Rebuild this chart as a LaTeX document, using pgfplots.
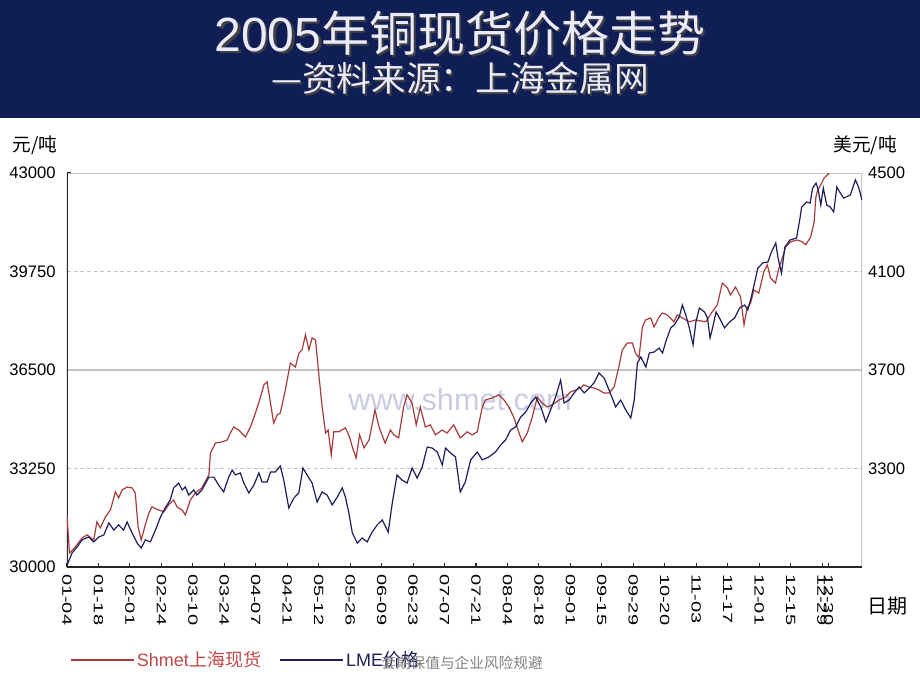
\documentclass[border=0pt]{standalone}
\usepackage{pgfplots}
\pgfplotsset{compat=1.18}
\usepackage{pgfplotstable}
\usepackage{fontspec}
\setmainfont{Liberation Sans}
\newfontfamily\cjk{Noto Sans CJK SC}
\definecolor{band}{HTML}{0F1E55}
\definecolor{shred}{HTML}{A83C3C}
\definecolor{shredtext}{HTML}{C04848}
\definecolor{lmeblue}{HTML}{1E1E5C}
\definecolor{gridgray}{HTML}{C4C4C4}
\definecolor{wmark}{HTML}{C9CCE2}

% Shmet spot price, yuan/t (x = trading day from 01-04)
\pgfplotstableread{
day val
0 31700
0.8 30460
2.6 30660
4.8 30960
6.4 31060
8.5 30890
9.5 31490
10.6 31290
12.2 31650
13.8 31880
15.4 32480
16.4 32280
17.5 32540
19.1 32640
20.7 32610
21.7 32440
22.6 31320
23.6 30890
24.7 31320
26.0 31780
27.0 31980
29.2 31880
30.8 31820
32.3 32050
33.9 32210
35.0 31980
36.6 31880
37.6 31720
39.2 32210
40.8 32440
42.9 32610
45.1 33040
45.6 33760
47.2 34090
49.3 34130
50.9 34190
51.9 34420
53.0 34620
54.6 34520
56.7 34290
58.3 34620
59.9 35080
61.5 35610
62.6 36010
63.6 36110
65.7 34750
66.8 35020
67.8 35080
69.4 35840
71.0 36730
72.6 36600
73.7 37060
74.7 37160
75.8 37660
76.9 37160
77.9 37560
79.0 37490
80.0 36400
81.1 35280
82.2 34420
83.0 34520
84.0 33700
84.8 34460
86.4 34460
88.5 34590
89.8 34290
90.7 33960
91.9 33600
93.0 34360
94.4 33930
96.0 34190
97.9 35180
99.2 34620
101.1 34090
102.8 34520
103.9 34360
105.4 34260
107.0 35280
108.1 35680
109.7 35410
111.0 34690
112.3 35280
113.9 34620
115.5 34690
117.1 34360
119.2 34520
120.8 34420
122.9 34690
125.0 34260
127.2 34460
128.8 34360
130.4 34460
132.0 35280
133.0 35510
135.2 35580
137.3 35680
138.9 35510
140.5 35280
142.1 34920
143.7 34420
144.7 34130
146.3 34420
147.9 34950
149.5 35610
151.0 35410
152.6 35280
154.2 35350
156.4 35510
158.5 35610
160.1 35780
161.7 35840
163.3 35910
164.3 36010
165.9 35940
167.5 35910
169.1 35840
170.7 35740
172.3 35740
173.9 35940
175.4 36600
176.5 37160
178.1 37390
179.7 37390
180.7 37060
181.8 36900
182.9 37920
183.9 38150
185.5 38220
186.6 37920
188.2 38250
189.2 38380
190.8 38320
192.9 38090
194.0 38320
195.6 38220
197.7 38090
199.8 38150
203.0 38090
205.1 38420
206.7 38650
208.3 39370
209.9 39210
210.9 38980
212.5 39240
214.1 38910
215.2 37990
216.2 38550
217.3 38710
218.3 39140
219.9 39040
221.5 39740
222.6 39970
223.6 39540
225.2 39370
226.3 39870
227.4 40200
228.4 40560
230.0 40730
232.1 40790
233.7 40730
234.8 40630
236.4 40890
237.5 41390
238.0 42180
238.6 42440
239.6 42610
240.7 42840
242.3 43000
}\shmet

% LME price, USD/t
\pgfplotstableread{
day val
0 2905
0.3 2916
1.6 2957
3.2 2981
4.8 3010
6.9 3022
8.5 3002
10.1 3022
11.7 3030
13.3 3079
14.9 3050
16.4 3071
18.0 3050
19.1 3083
20.7 3038
22.3 2997
23.6 2977
24.9 3010
26.5 3002
28.1 3050
29.7 3103
31.2 3140
32.8 3172
33.9 3221
35.5 3241
36.6 3213
37.6 3225
38.7 3192
40.3 3213
41.3 3192
42.9 3213
45.1 3265
46.7 3265
48.2 3233
49.8 3205
51.4 3265
52.5 3294
53.5 3274
55.1 3282
56.2 3241
57.8 3201
59.4 3233
61.0 3282
62.0 3245
63.6 3245
64.7 3286
66.2 3286
67.8 3310
68.9 3253
70.5 3140
72.1 3180
73.7 3201
75.0 3302
76.3 3274
77.9 3241
79.5 3164
81.1 3205
82.7 3192
84.3 3152
85.9 3184
87.5 3221
88.5 3184
89.6 3119
90.7 3038
92.3 2997
93.8 3018
95.4 3002
97.0 3042
98.6 3071
100.2 3091
102.1 3042
103.4 3160
104.9 3274
106.5 3253
108.1 3241
109.7 3302
111.3 3261
112.9 3306
114.5 3387
116.1 3383
117.7 3367
119.3 3314
120.3 3383
121.9 3363
123.5 3347
125.0 3205
126.6 3245
128.3 3335
130.4 3367
132.0 3335
134.1 3347
136.2 3367
137.8 3395
139.4 3416
141.0 3456
142.6 3469
144.2 3509
145.8 3529
147.4 3566
149.0 3590
150.6 3550
152.2 3489
153.7 3538
155.3 3590
156.9 3659
158.0 3566
159.6 3578
161.2 3607
162.8 3631
164.4 3607
166.0 3627
167.5 3647
169.1 3688
170.7 3668
172.3 3619
174.4 3550
176.0 3578
177.6 3538
179.2 3505
180.3 3578
181.3 3728
182.4 3753
184.0 3712
185.1 3769
186.6 3773
188.2 3789
189.3 3769
190.3 3814
191.9 3871
193.0 3883
194.6 3915
195.6 3964
196.7 3923
197.8 3871
199.0 3802
199.9 3895
201.0 3952
202.6 3936
203.6 3911
204.4 3830
205.2 3871
206.3 3936
207.4 3911
209.0 3871
210.6 3895
212.2 3911
213.8 3952
215.4 3964
216.4 3944
217.5 3996
218.6 4057
219.6 4114
221.2 4135
222.8 4139
223.9 4179
225.3 4216
226.0 4155
227.1 4094
228.2 4200
229.8 4228
231.9 4236
233.0 4317
233.5 4362
235.1 4382
236.2 4378
237.0 4439
238.1 4459
238.8 4431
239.6 4370
240.4 4439
241.5 4370
242.6 4362
243.7 4342
244.7 4443
245.8 4419
246.9 4398
249.0 4411
250.6 4472
251.6 4443
252.7 4390
}\lme

\pgfplotsset{
  common/.style={
    at={(50.25pt,-425.25pt)}, anchor=south west,
    scale only axis, width=596.25pt, height=295.5pt,
    xmin=0, xmax=252.7,
    axis line style={draw=none},
    ticklabel style={font=\fontsize{12.5}{14}\selectfont},
    scaled y ticks=false,
    /pgf/number format/assume math mode=true,
    /pgf/number format/fixed,
    /pgf/number format/1000 sep={},
  },
}

\begin{document}
\begin{tikzpicture}
\begin{scope}[x=0.75pt,y=-0.75pt]
  \path[use as bounding box, fill=white] (0,0) rectangle (920,690);
  \fill[band] (0,0) rectangle (920,118);
  \node[black!75, font=\fontsize{36}{42}\selectfont] at (462.5,35.5) {2005{\cjk 年铜现货价格走势}};
  \node[white!92!blue, font=\fontsize{36}{42}\selectfont] at (460,33) {2005{\cjk 年铜现货价格走势}};
  \node[black!75, font=\cjk\fontsize{26}{30}\selectfont] at (462,80) {—资料来源：上海金属网};
  \node[white!92!blue, font=\cjk\fontsize{26}{30}\selectfont] at (460,78) {—资料来源：上海金属网};
  \node[wmark, font=\fontsize{23}{26}\selectfont] at (460,400) {www.shmet.com};
  \node[font=\cjk\fontsize{14}{16}\selectfont] at (35,145) {元/吨};
  \node[font=\cjk\fontsize{14}{16}\selectfont] at (865,145) {美元/吨};
  \node[font=\cjk\fontsize{15}{18}\selectfont] at (887,606) {日期};
\end{scope}

\begin{axis}[common,
  ymin=30000, ymax=43000,
  ytick={30000,33250,36500,39750,43000},
  xtick={0,10,20,30,40,50,60,70,80,90,100,110,120,130,140,150,160,170,180,190,200,210,220,230,240,242},
  xticklabels={01-04,01-18,02-01,02-24,03-10,03-24,04-07,04-21,05-12,05-26,06-09,06-23,07-07,07-21,08-04,08-18,09-01,09-15,09-29,10-20,11-03,11-17,12-01,12-15,12-29,12-30},
  xtick pos=bottom, ytick pos=left,
  tick align=inside, major tick length=3pt,
  tick style={black!85, line width=0.8pt},
  xticklabel style={font=\fontsize{10}{12}\selectfont, rotate=-90, anchor=west, xscale=1.5},
  yticklabel style={xshift=-5pt},
]
  \draw[gridgray, line width=0.9pt] (rel axis cs:0,1) -- (rel axis cs:1,1);
  \draw[gridgray, line width=0.9pt] (rel axis cs:1,0) -- (rel axis cs:1,1);
  \draw[gridgray, line width=0.9pt] (axis cs:0,36500) -- (axis cs:252.7,36500);
  \draw[gridgray, line width=0.8pt, dash pattern=on 3pt off 2pt] (axis cs:0,39750) -- (axis cs:252.7,39750);
  \draw[gridgray, line width=0.8pt, dash pattern=on 3pt off 2pt] (axis cs:0,33250) -- (axis cs:252.7,33250);
  \draw[black!85, line width=1.2pt] (rel axis cs:0,1) -- (rel axis cs:0,0) -- (rel axis cs:1,0);
  \addplot[shred, line width=0.9pt] table[x=day, y=val] {\shmet};
\end{axis}

\begin{axis}[common,
  ymin=2900, ymax=4500,
  ytick={3300,3700,4100,4500},
  hide x axis,
  ytick pos=right, yticklabel pos=right,
  major tick length=0pt,
  yticklabel style={xshift=1pt},
  legend columns=2,
  legend style={at={(0.004,-0.236)}, anchor=west, draw=none, fill=none,
    font=\fontsize{13.5}{15}\selectfont, inner sep=0pt,
    /tikz/every even column/.append style={column sep=12pt}},
  legend image code/.code={\draw[#1] (0pt,0pt) -- (47pt,0pt);},
]
  \addlegendimage{shred, line width=0.9pt}
  \addlegendentry{\textcolor{shredtext}{Shmet{\cjk 上海现货}}}
  \addplot[lmeblue, line width=0.9pt] table[x=day, y=val] {\lme};
  \addlegendentry{\textcolor{lmeblue}{LME{\cjk 价格}}}
\end{axis}

\begin{scope}[x=0.75pt,y=-0.75pt]
  \node[gray, font=\cjk\fontsize{11}{13}\selectfont] at (462,663) {套期保值与企业风险规避};
\end{scope}
\end{tikzpicture}
\end{document}
